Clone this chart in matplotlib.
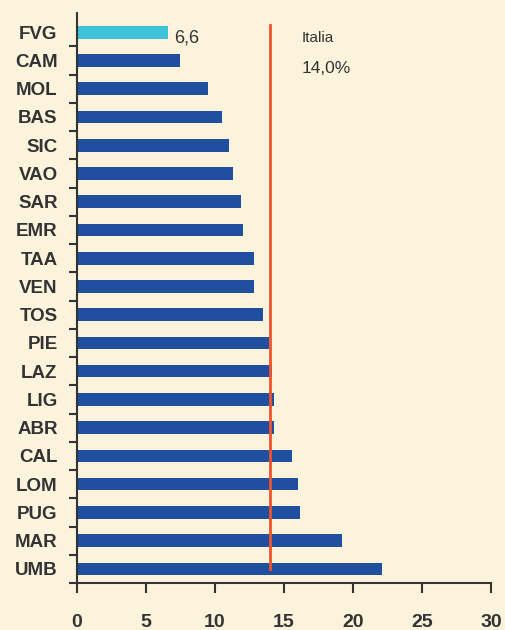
import numpy as np
import matplotlib.pyplot as plt

# Dati: regioni e valori percentuali
regioni = ["FVG", "CAM", "MOL", "BAS", "SIC", "VAO", "SAR", "EMR", "TAA", "VEN",
           "TOS", "PIE", "LAZ", "LIG", "ABR", "CAL", "LOM", "PUG", "MAR", "UMB"]
valori = [6.6, 7.5, 9.5, 10.5, 11.0, 11.3, 11.9, 12.0, 12.8, 12.8,
          13.5, 13.9, 14.1, 14.3, 14.3, 15.6, 16.0, 16.2, 19.2, 22.1]
media_italia = 14.0
x_ticks = [0, 5, 10, 15, 20, 25, 30]

sfondo = "#fbf3dc"
blu = "#1f4f9e"
ciano = "#3ec3d9"
rosso = "#f0522a"
testo = "#333333"

plt.rcParams["font.family"] = ["Liberation Sans", "DejaVu Sans"]

fig = plt.figure(figsize=(5.05, 6.3), dpi=100, facecolor=sfondo)
ax = fig.add_axes([0.1525, 0.0746, 0.8195, 0.9044], facecolor=sfondo)

pos = np.arange(len(regioni))
colori = [ciano] + [blu] * (len(regioni) - 1)
ax.barh(pos, valori, height=0.45, color=colori)

# Linea della media nazionale
ax.plot([media_italia, media_italia], [-0.25, pos[-1]], color=rosso, lw=2)
ax.text(valori[0] + 0.45, 0.2, "6,6", fontsize=13, color=testo, va="center", ha="left")
ax.text(16.3, 0.2, "Italia", fontsize=11, color=testo, va="center", ha="left")
ax.text(16.3, 1.3, "14,0%", fontsize=12.5, color=testo, va="center", ha="left")

ax.set_xlim(0, 30)
ax.set_ylim(19.39, -0.67)
ax.set_xticks(x_ticks)
ax.set_xticklabels([str(t) for t in x_ticks], fontsize=14, color=testo, fontweight="bold")
ax.set_yticks(pos)
ax.set_yticklabels(regioni, fontsize=13.5, color=testo, fontweight="bold")
ax.set_yticks(np.arange(-0.5, 19.6, 1.0)[1:], minor=True)
ax.tick_params(axis="y", which="major", length=0, pad=14)
ax.tick_params(axis="y", which="minor", length=6, width=1.5, color="#333333")
ax.tick_params(axis="x", length=7, width=1.5, color="#333333", pad=15)

for s in ["top", "right"]:
    ax.spines[s].set_visible(False)
for s in ["left", "bottom"]:
    ax.spines[s].set_color("#333333")
    ax.spines[s].set_linewidth(1.5)

plt.savefig("out.png", dpi=100, facecolor=sfondo)
